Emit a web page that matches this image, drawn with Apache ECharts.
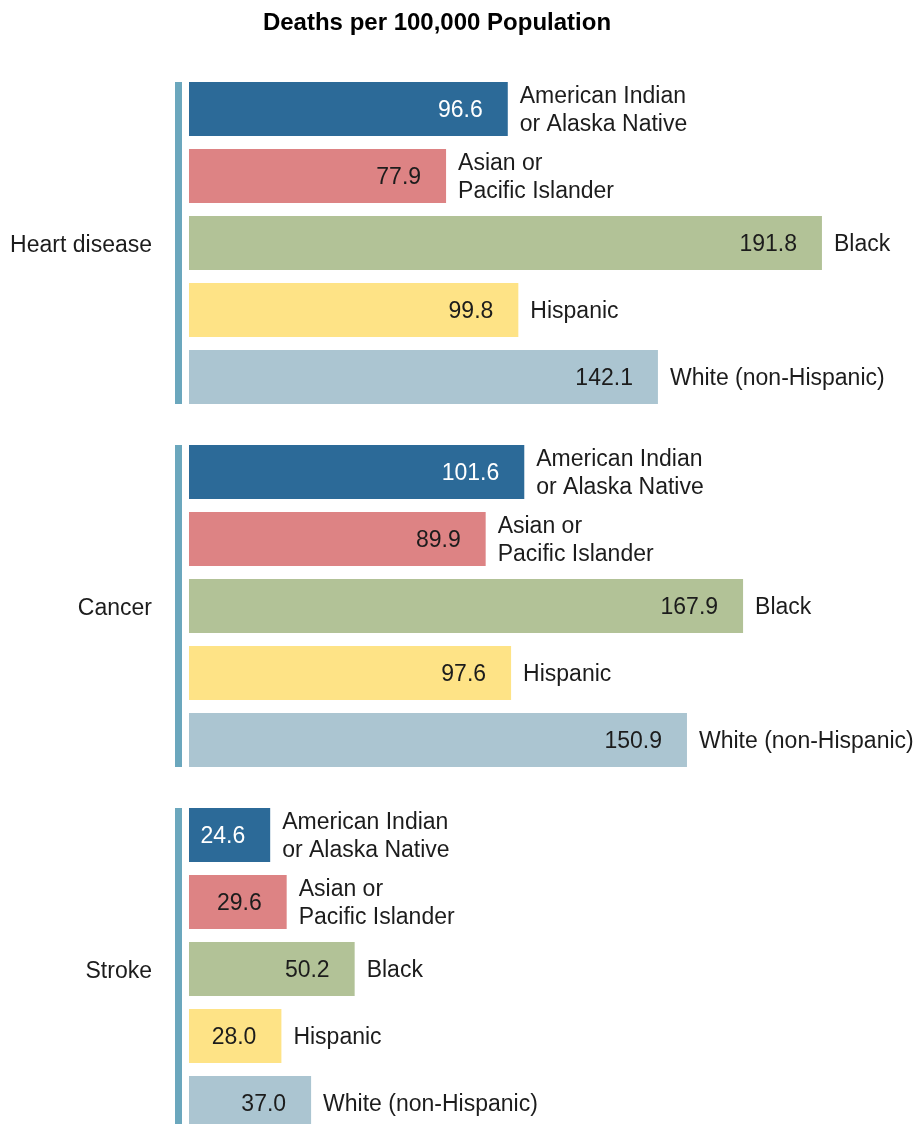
<!DOCTYPE html>
<html>
<head>
<meta charset="utf-8">
<script src="https://cdn.jsdelivr.net/npm/echarts@6/dist/echarts.min.js"></script>
<style>
  html, body { margin: 0; padding: 0; background: #ffffff; }
  #chart { width: 915px; height: 1124px; }
</style>
</head>
<body>
<div id="chart"></div>
<script>
// Death rates per 100,000 population by cause and race/ethnicity
const causes = ['Heart disease', 'Cancer', 'Stroke'];
const races = ['American Indian\nor Alaska Native', 'Asian or\nPacific Islander', 'Black', 'Hispanic', 'White (non-Hispanic)'];
const heartDisease = [96.6, 77.9, 191.8, 99.8, 142.1];
const cancer = [101.6, 89.9, 167.9, 97.6, 150.9];
const stroke = [24.6, 29.6, 50.2, 28.0, 37.0];

const values = [heartDisease, cancer, stroke];
const raceColors = ['#2c6a98', '#dd8384', '#b2c297', '#fee386', '#abc5d1'];
const valueLabelColors = ['#ffffff', '#1c1c1c', '#1c1c1c', '#1c1c1c', '#1c1c1c'];

const FONT = 'Liberation Sans';
const FONT_SIZE = 23;
const BAR_H = 54;
const BAND = 67;
const GROUP_STEP = 363;
const FIRST_BAND_TOP = 75.5;

const grids = [], xAxes = [], yAxes = [], series = [];

causes.forEach((cause, g) => {
  grids.push({
    left: 189, right: 0, top: FIRST_BAND_TOP + GROUP_STEP * g, height: BAND * races.length,
    outerBoundsMode: 'none', containLabel: false
  });
  xAxes.push({ gridIndex: g, type: 'value', min: 0, max: 220, show: false });
  yAxes.push({
    gridIndex: g, type: 'category', inverse: true, data: races,
    axisLine: { show: false }, axisTick: { show: false }, axisLabel: { show: false }, splitLine: { show: false },
    name: '{n|' + cause + '}', nameLocation: 'middle', nameRotate: 0, nameGap: 37,
    nameTextStyle: {
      align: 'right', verticalAlign: 'middle',
      rich: { n: { fontFamily: FONT, fontSize: FONT_SIZE, color: '#1c1c1c', padding: [6, 0, 0, 0] } }
    }
  });

  // coloured bars with the value written inside the bar end
  series.push({
    type: 'bar', xAxisIndex: g, yAxisIndex: g, barWidth: BAR_H, silent: true,
    data: values[g].map((v, i) => ({
      value: v,
      itemStyle: { color: raceColors[i] },
      label: { color: valueLabelColors[i] }
    })),
    label: {
      show: true, position: 'insideRight', distance: 25, offset: [0, 2],
      fontFamily: FONT, fontSize: FONT_SIZE,
      formatter: p => p.value.toFixed(1)
    }
  });

  // race names placed just past the bar end
  series.push({
    type: 'bar', xAxisIndex: g, yAxisIndex: g, barWidth: BAR_H, barGap: '-100%', silent: true,
    itemStyle: { color: 'rgba(0,0,0,0)' },
    data: values[g].slice(),
    label: {
      show: true, position: 'right', distance: 12, offset: [0, 2],
      fontFamily: FONT, fontSize: FONT_SIZE, color: '#1c1c1c', lineHeight: 28, align: 'left',
      formatter: p => races[p.dataIndex]
    }
  });

  // vertical bracket spanning the group's bars
  series.push({
    type: 'custom', xAxisIndex: g, yAxisIndex: g, silent: true,
    data: [[0, 0]],
    renderItem: (params, api) => {
      const first = api.coord([0, 0]);
      const last = api.coord([0, races.length - 1]);
      const top = first[1] - BAR_H / 2;
      const bottom = last[1] + BAR_H / 2;
      return {
        type: 'rect',
        shape: { x: first[0] - 14, y: top, width: 7, height: bottom - top },
        style: { fill: '#6ba7bd' }
      };
    }
  });
});

const chart = echarts.init(document.getElementById('chart'), null, { renderer: 'canvas' });
chart.setOption({
  animation: false,
  backgroundColor: '#ffffff',
  title: {
    text: 'Deaths per 100,000 Population',
    left: 432, top: 6, textAlign: 'center',
    textStyle: { fontFamily: FONT, fontSize: 24, fontWeight: 'bold', color: '#000000' }
  },
  grid: grids,
  xAxis: xAxes,
  yAxis: yAxes,
  series: series
});
</script>
</body>
</html>
